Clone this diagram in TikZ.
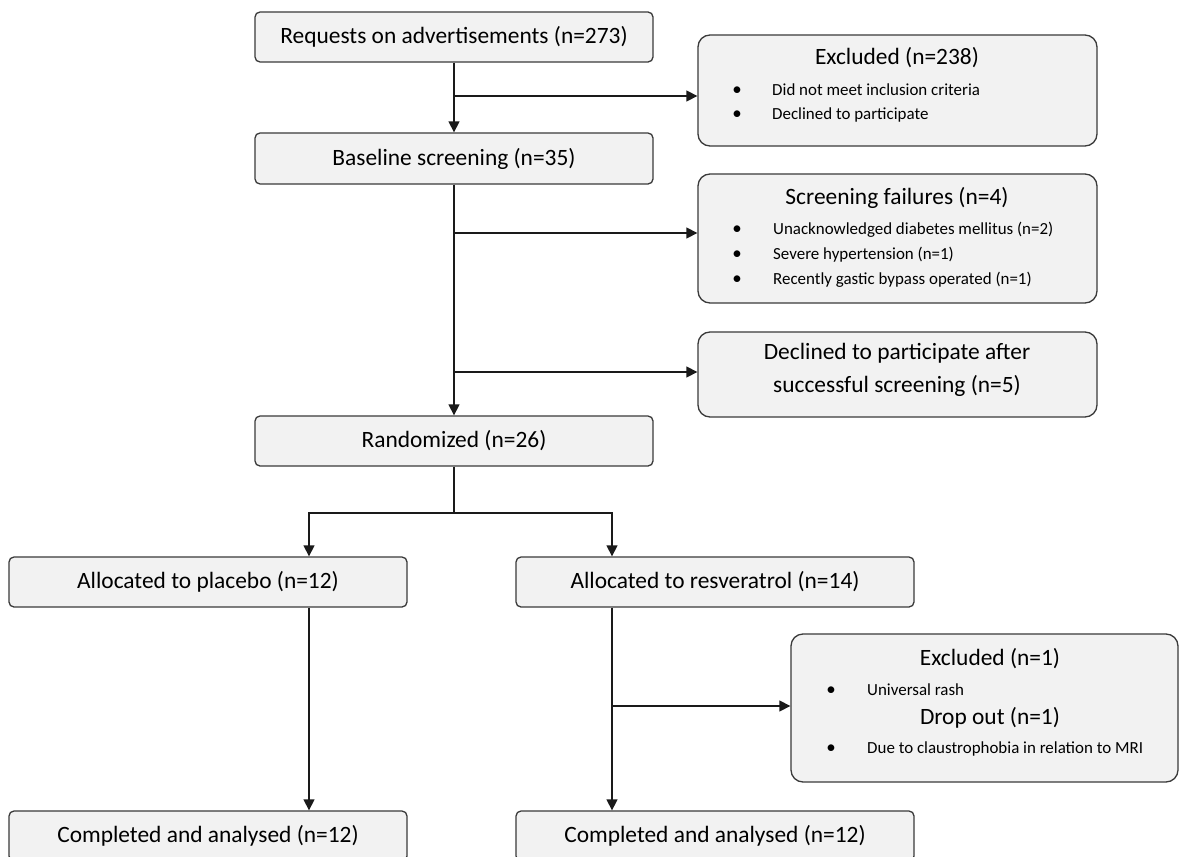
\documentclass[tikz,border=0pt]{standalone}
\usepackage{fontspec}
\setmainfont{Carlito}
\usetikzlibrary{arrows.meta,calc}
\definecolor{boxfill}{HTML}{F2F2F2}
\definecolor{boxline}{HTML}{3A3A3A}
\definecolor{linecol}{HTML}{1A1A1A}
\tikzset{
  mainbox/.style={draw=boxline, fill=boxfill, line width=1.3bp, rounded corners=5bp,
    minimum width=398bp, minimum height=50bp, inner sep=0pt, font=\fontsize{23.5}{28}\selectfont, text=black},
  sidebox/.style={draw=boxline, fill=boxfill, line width=1.3bp, rounded corners=12bp, inner sep=0pt},
  titletext/.style={inner sep=0pt, anchor=mid, font=\fontsize{23.5}{28}\selectfont},
  itemtext/.style={inner sep=0pt, anchor=mid west, font=\fontsize{17}{20}\selectfont},
  bullettext/.style={inner sep=0pt, anchor=mid, font=\fontsize{19}{20}\selectfont},
  arr/.style={draw=linecol, line width=1.3bp, -{Triangle[length=11bp,width=11bp]}},
  ln/.style={draw=linecol, line width=1.3bp}
}
\begin{document}
\begin{tikzpicture}[x=1bp,y=-1bp]
\useasboundingbox (0,0) rectangle (1180,857);
\clip (0,0) rectangle (1180,857);
\fill[white] (0,0) rectangle (1180,857);

% main boxes
\node[mainbox] (req) at (454,37) {Requests on advertisements (n=273)};
\node[mainbox, minimum height=51bp] (base) at (454,158.5) {Baseline screening (n=35)};
\node[mainbox] (rand) at (454,441) {Randomized (n=26)};
\node[mainbox] (plac) at (208,582) {Allocated to placebo (n=12)};
\node[mainbox] (resv) at (715,582) {Allocated to resveratrol (n=14)};
\node[mainbox] (compP) at (208,836) {Completed and analysed (n=12)};
\node[mainbox] (compR) at (715,836) {Completed and analysed (n=12)};

% side boxes
\node[sidebox, minimum width=399bp, minimum height=111bp] (ex238) at (897.5,90.5) {};
\node[titletext] (ex238t) at (897,62) {Excluded (n=238)};
\node[bullettext] (ex238b1) at (737,93) {\textbullet};
\node[itemtext] (ex238i1) at (772,93) {Did not meet inclusion criteria};
\node[bullettext] (ex238b2) at (737,117) {\textbullet};
\node[itemtext] (ex238i2) at (772,117) {Declined to participate};

\node[sidebox, minimum width=399bp, minimum height=129bp] (sf) at (897.5,238.5) {};
\node[titletext] (sft) at (897,202) {Screening failures (n=4)};
\node[bullettext] (sfb1) at (737,232) {\textbullet};
\node[itemtext] (sfi1) at (773,232) {Unacknowledged diabetes mellitus (n=2)};
\node[bullettext] (sfb2) at (737,257) {\textbullet};
\node[itemtext] (sfi2) at (773,257) {Severe hypertension (n=1)};
\node[bullettext] (sfb3) at (737,282) {\textbullet};
\node[itemtext] (sfi3) at (773,282) {Recently gastic bypass operated (n=1)};

\node[sidebox, minimum width=399bp, minimum height=85bp] (dec) at (897.5,374.5) {};
\node[titletext] (dect1) at (897,357) {Declined to participate after};
\node[titletext] (dect2) at (897,390) {successful screening (n=5)};

\node[sidebox, minimum width=387bp, minimum height=148bp] (ex1) at (984.5,708) {};
\node[titletext] (ex1t) at (990,663) {Excluded (n=1)};
\node[bullettext] (ex1b1) at (831,693) {\textbullet};
\node[itemtext] (ex1i1) at (867,693) {Universal rash};
\node[titletext] (ex1t2) at (990,722) {Drop out (n=1)};
\node[bullettext] (ex1b2) at (831,751) {\textbullet};
\node[itemtext] (ex1i2) at (867,751) {Due to claustrophobia in relation to MRI};

% connectors
\coordinate (j1) at (454,96);
\coordinate (j2) at (454,233);
\coordinate (j3) at (454,372);
\coordinate (j4) at (454,513);
\coordinate (jp) at (309,513);
\coordinate (jr) at (612,513);
\coordinate (j5) at (612,706);

\draw[arr] (req.south) -- (base.north);
\draw[arr] (j1) -- (j1 -| ex238.west);
\draw[arr] (base.south) -- (rand.north);
\draw[arr] (j2) -- (j2 -| sf.west);
\draw[arr] (j3) -- (j3 -| dec.west);
\draw[ln] (rand.south) -- (j4);
\draw[arr] (j4) -- (jp) -- (jp |- plac.north);
\draw[arr] (j4) -- (jr) -- (jr |- resv.north);
\draw[arr] (jp |- plac.south) -- (jp |- compP.north);
\draw[arr] (jr |- resv.south) -- (jr |- compR.north);
\draw[arr] (j5) -- (j5 -| ex1.west);
\end{tikzpicture}
\end{document}
